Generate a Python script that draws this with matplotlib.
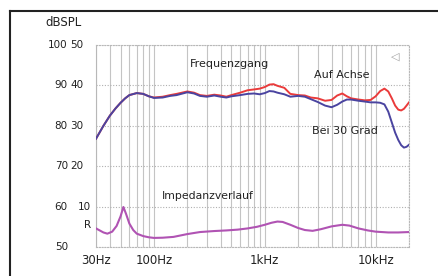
import numpy as np
import matplotlib
matplotlib.use("Agg")
import matplotlib.pyplot as plt
from matplotlib.lines import Line2D
from matplotlib.ticker import NullFormatter, FixedLocator

# Frequency response on axis / at 30 degrees (dB SPL)
freq = [30, 35, 40, 45, 50, 55, 60, 70, 80, 90, 100, 120, 140, 160, 200, 230, 260,
        300, 350, 400, 450, 500, 600, 700, 800, 900, 1000, 1100, 1200, 1300, 1500,
        1700, 2000, 2300, 2600, 3000, 3500, 4000, 4500, 5000, 5500, 6000, 7000,
        8000, 9000, 10000, 11000, 12000, 13000, 14000, 15000, 16000, 17000, 18000,
        19000, 20000]
spl_axis = [76.8, 80.0, 82.5, 84.3, 85.7, 86.8, 87.6, 88.1, 87.9, 87.3, 87.0, 87.2,
            87.6, 87.9, 88.5, 88.2, 87.6, 87.4, 87.7, 87.5, 87.2, 87.6, 88.2, 88.8,
            89.0, 89.2, 89.6, 90.2, 90.3, 89.9, 89.4, 87.9, 87.6, 87.5, 87.0, 86.8,
            86.2, 86.4, 87.5, 88.0, 87.3, 86.8, 86.5, 86.3, 86.4, 87.3, 88.6, 89.2,
            88.5, 86.8, 85.0, 84.0, 83.8, 84.2, 85.0, 85.8]
spl_30deg = [76.8, 80.0, 82.5, 84.3, 85.7, 86.8, 87.6, 88.1, 87.9, 87.3, 86.9, 87.0,
             87.4, 87.6, 88.3, 88.0, 87.4, 87.2, 87.5, 87.2, 87.0, 87.3, 87.6, 87.9,
             88.0, 87.8, 88.1, 88.6, 88.5, 88.2, 87.8, 87.2, 87.4, 87.2, 86.6, 85.9,
             85.0, 84.6, 85.2, 86.0, 86.5, 86.5, 86.2, 86.0, 85.8, 85.8, 85.7, 85.3,
             83.5, 80.8, 78.3, 76.5, 75.2, 74.6, 74.8, 75.3]

# Impedance (Ohm)
imp_freq = [30, 35, 38, 42, 46, 50, 53, 56, 60, 65, 70, 80, 90, 100, 120, 150, 200,
            260, 350, 450, 570, 700, 850, 1000, 1150, 1300, 1450, 1700, 2000, 2300,
            2700, 3200, 4000, 5000, 5800, 7000, 8500, 10000, 13000, 16000, 20000]
impedance = [4.6, 3.6, 3.3, 3.8, 5.2, 7.6, 9.9, 8.2, 5.8, 4.2, 3.3, 2.7, 2.4, 2.25,
             2.3, 2.5, 3.2, 3.7, 3.95, 4.1, 4.3, 4.6, 5.0, 5.5, 6.0, 6.3, 6.2, 5.5,
             4.7, 4.2, 4.0, 4.4, 5.1, 5.5, 5.3, 4.6, 4.1, 3.8, 3.6, 3.6, 3.7]

db_ticks = [100, 90, 80, 70, 60, 50]
ohm_labels = ["50", "40", "30", "20", "10", ""]
x_ticks = [30, 100, 1000, 10000]
x_labels = ["30Hz", "100Hz", "1kHz", "10kHz"]

fig = plt.figure(figsize=(4.38, 2.76), dpi=100)
ax = fig.add_axes([96 / 438, 1 - 247 / 276, 313 / 438, 202 / 276])

ax.set_xscale("log")
ax.set_xlim(30, 20000)
ax.set_ylim(50, 100)

# grid: solid verticals at every log step, dotted horizontals
minor = [m * 10 ** d for d in range(1, 5) for m in range(1, 10) if 30 <= m * 10 ** d <= 20000]
ax.xaxis.set_major_locator(FixedLocator(minor))
ax.xaxis.set_major_formatter(NullFormatter())
ax.xaxis.set_minor_locator(FixedLocator([]))
ax.set_yticks(db_ticks)
ax.set_yticklabels([])
ax.tick_params(length=0)
ax.grid(axis="x", color="#c4c4c4", linewidth=0.8, linestyle="-")
ax.grid(axis="y", color="#b0b0b0", linewidth=0.8, linestyle=(0, (1, 1.5)))
for side, sp in ax.spines.items():
    sp.set_color("#b8b8b8")
    sp.set_linewidth(0.8)
    if side != "left":
        sp.set_linestyle((0, (1, 1.5)))

imp_db = np.array(impedance) + 50  # 0 Ohm sits on the 50 dB line
ax.plot(imp_freq, imp_db, color="#b053b3", linewidth=1.5, zorder=3)
ax.plot(freq, spl_axis, color="#ea3b3b", linewidth=1.4, zorder=3)
ax.plot(freq, spl_30deg, color="#4a44a0", linewidth=1.4, zorder=4)

# two-column y labels (dB SPL and Ohm)
tr = ax.get_yaxis_transform()
for db, ohm in zip(db_ticks, ohm_labels):
    ax.text(-0.09, db, str(db), transform=tr, ha="right", va="center",
            fontsize=7.5, color="#222222")
    if ohm:
        xo = -0.015 if ohm == "10" else -0.04
        ax.text(xo, db, ohm, transform=tr, ha="right", va="center",
                fontsize=7.5, color="#222222")
ax.text(-0.015, 55.5, "R", transform=tr, ha="right", va="center",
        fontsize=7.5, color="#222222")

for xt, lab in zip(x_ticks, x_labels):
    ax.text(xt, -0.065, lab, transform=ax.get_xaxis_transform(), ha="center",
            va="center", fontsize=8.5, color="#222222")

fig.text(45 / 438, 1 - 23 / 276, "dBSPL", ha="left", va="center",
         fontsize=8.5, color="#222222")

ax.text(211, 95.2, "Frequenzgang", fontsize=8, color="#222222", va="center")
ax.text(2760, 92.5, "Auf Achse", fontsize=8, color="#222222", va="center")
ax.text(2650, 78.7, "Bei 30 Grad", fontsize=8, color="#222222", va="center")
ax.text(118, 62.5, "Impedanzverlauf", fontsize=7.8, color="#222222", va="center")
ax.text(0.955, 0.965, "\u25c1", transform=ax.transAxes, fontsize=8,
        color="#a0a0a0", ha="center", va="top")

# outer frame of the picture (only top and left visible)
fig.add_artist(Line2D([10 / 438, 1.0], [1 - 11 / 276] * 2, color="#222222", linewidth=1.5))
fig.add_artist(Line2D([10 / 438] * 2, [0.0, 1 - 11 / 276], color="#222222", linewidth=1.5))

fig.savefig("out.png", dpi=100)
